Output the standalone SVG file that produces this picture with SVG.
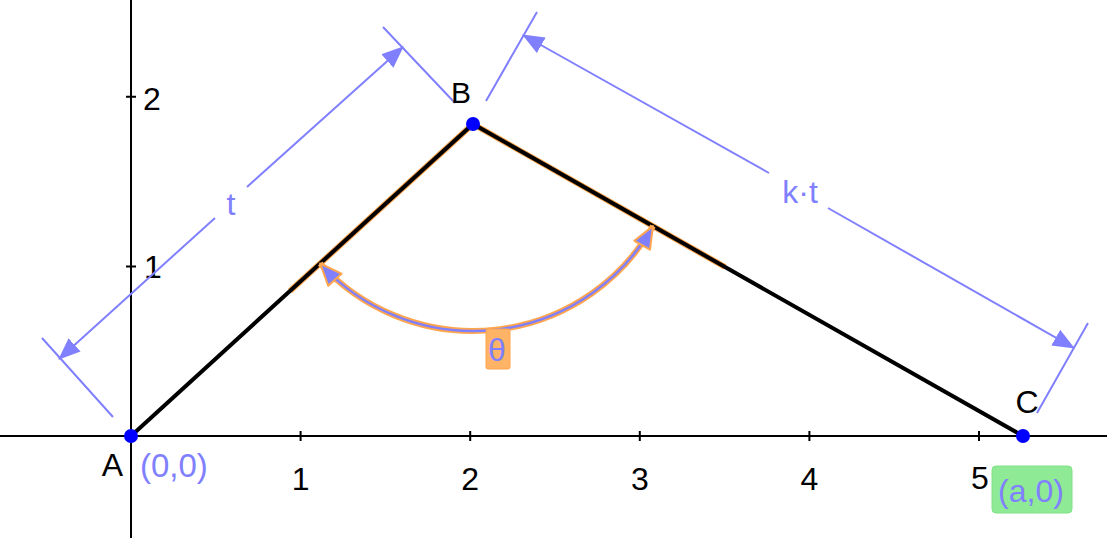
<svg xmlns="http://www.w3.org/2000/svg" width="1107" height="538" viewBox="0 0 1107 538">
<style>
text{font-family:"Liberation Sans",Arial,sans-serif;font-size:32px;}
.lbl{fill:#000;}
.dim{stroke:#8080ff;stroke-width:2;fill:none;}
.bl{fill:#8080ff;}
.ax{stroke:#000;stroke-width:2;fill:none;}
.seg{stroke:#000;stroke-width:4;fill:none;stroke-linecap:round;}
.pt{fill:#0000ff;}
</style>
<defs>
<marker id="ah" viewBox="0 0 22 18" refX="21" refY="9" markerWidth="22" markerHeight="18" markerUnits="userSpaceOnUse" orient="auto">
<path d="M0,0 L22,9 L0,18 z" fill="#8080ff"/>
</marker>
<marker id="aa" viewBox="-2 -2 26 22" refX="22" refY="9" markerWidth="26" markerHeight="22" markerUnits="userSpaceOnUse" orient="auto-start-reverse">
<path d="M0,0 L22,9 L0,18 z" fill="#8080ff" stroke="#ffa64d" stroke-width="2" stroke-linejoin="round"/>
</marker>
</defs>
<g id="axes">
<line class="ax" x1="0" y1="436" x2="1107" y2="436"/>
<line class="ax" x1="131" y1="0" x2="131" y2="538"/>
<path class="ax" d="M300.6,431V441M470.2,431V441M639.8,431V441M809.4,431V441M979,431V441M126,266.4H136M126,96.8H136"/>
<text class="lbl" x="300.6" y="490" text-anchor="middle">1</text>
<text class="lbl" x="470.2" y="490" text-anchor="middle">2</text>
<text class="lbl" x="639.8" y="490" text-anchor="middle">3</text>
<text class="lbl" x="809.4" y="490" text-anchor="middle">4</text>
<text class="lbl" x="980" y="489" text-anchor="middle">5</text>
<text class="lbl" x="144" y="278">1</text>
<text class="lbl" x="143" y="110">2</text>
</g>
<g id="connectors">
<path d="M290,291 L473,124 L725,267" fill="none" stroke="#ffa64d" stroke-width="6" stroke-linejoin="round"/>
<path class="seg" d="M131,436 L473,124 L1023,436"/>
<path class="dim" d="M113,417 L42,338 M455,103 L383,27 M486,101 L537,12 M1037,413 L1088,323"/>
<path class="dim" d="M215,218 L59,359" marker-end="url(#ah)"/>
<path class="dim" d="M247,187 L403,47" marker-end="url(#ah)"/>
<path class="dim" d="M769,173 L523,35" marker-end="url(#ah)"/>
<path class="dim" d="M828,208 L1074,348" marker-end="url(#ah)"/>
<text class="bl" x="231" y="215" text-anchor="middle">t</text>
<text class="bl" x="800" y="203" text-anchor="middle">k·t</text>
</g>
<g id="angle">
<path d="M320.1,263.5 A207,207 0 0 0 653,226.1" fill="none" stroke="#ffa64d" stroke-width="6"/>
<path d="M320.1,263.5 A207,207 0 0 0 653,226.1" fill="none" stroke="#8080ff" stroke-width="2.5" marker-start="url(#aa)" marker-end="url(#aa)"/>
<rect x="486" y="329" width="24" height="40" rx="2" fill="#ffb366" stroke="#ffa64d" stroke-width="1"/>
<text class="bl" x="497" y="361" text-anchor="middle">θ</text>
</g>
<g id="A">
<circle class="pt" cx="131" cy="436" r="7"/>
<text class="lbl" x="112.5" y="476" text-anchor="middle">A</text>
<text class="bl" x="140" y="477" font-size="33" style="font-size:33px">(0,0)</text>
</g>
<g id="B">
<circle class="pt" cx="473" cy="124" r="7"/>
<text class="lbl" x="461" y="103" style="font-size:30px" text-anchor="middle">B</text>
</g>
<g id="C">
<circle class="pt" cx="1023" cy="436" r="7"/>
<text class="lbl" x="1027" y="413" text-anchor="middle">C</text>
<rect x="992" y="466" width="80" height="47" rx="4" fill="#8eea94" stroke="#80e088" stroke-width="1"/>
<text class="bl" x="1031" y="502" text-anchor="middle">(a,0)</text>
</g>
</svg>
